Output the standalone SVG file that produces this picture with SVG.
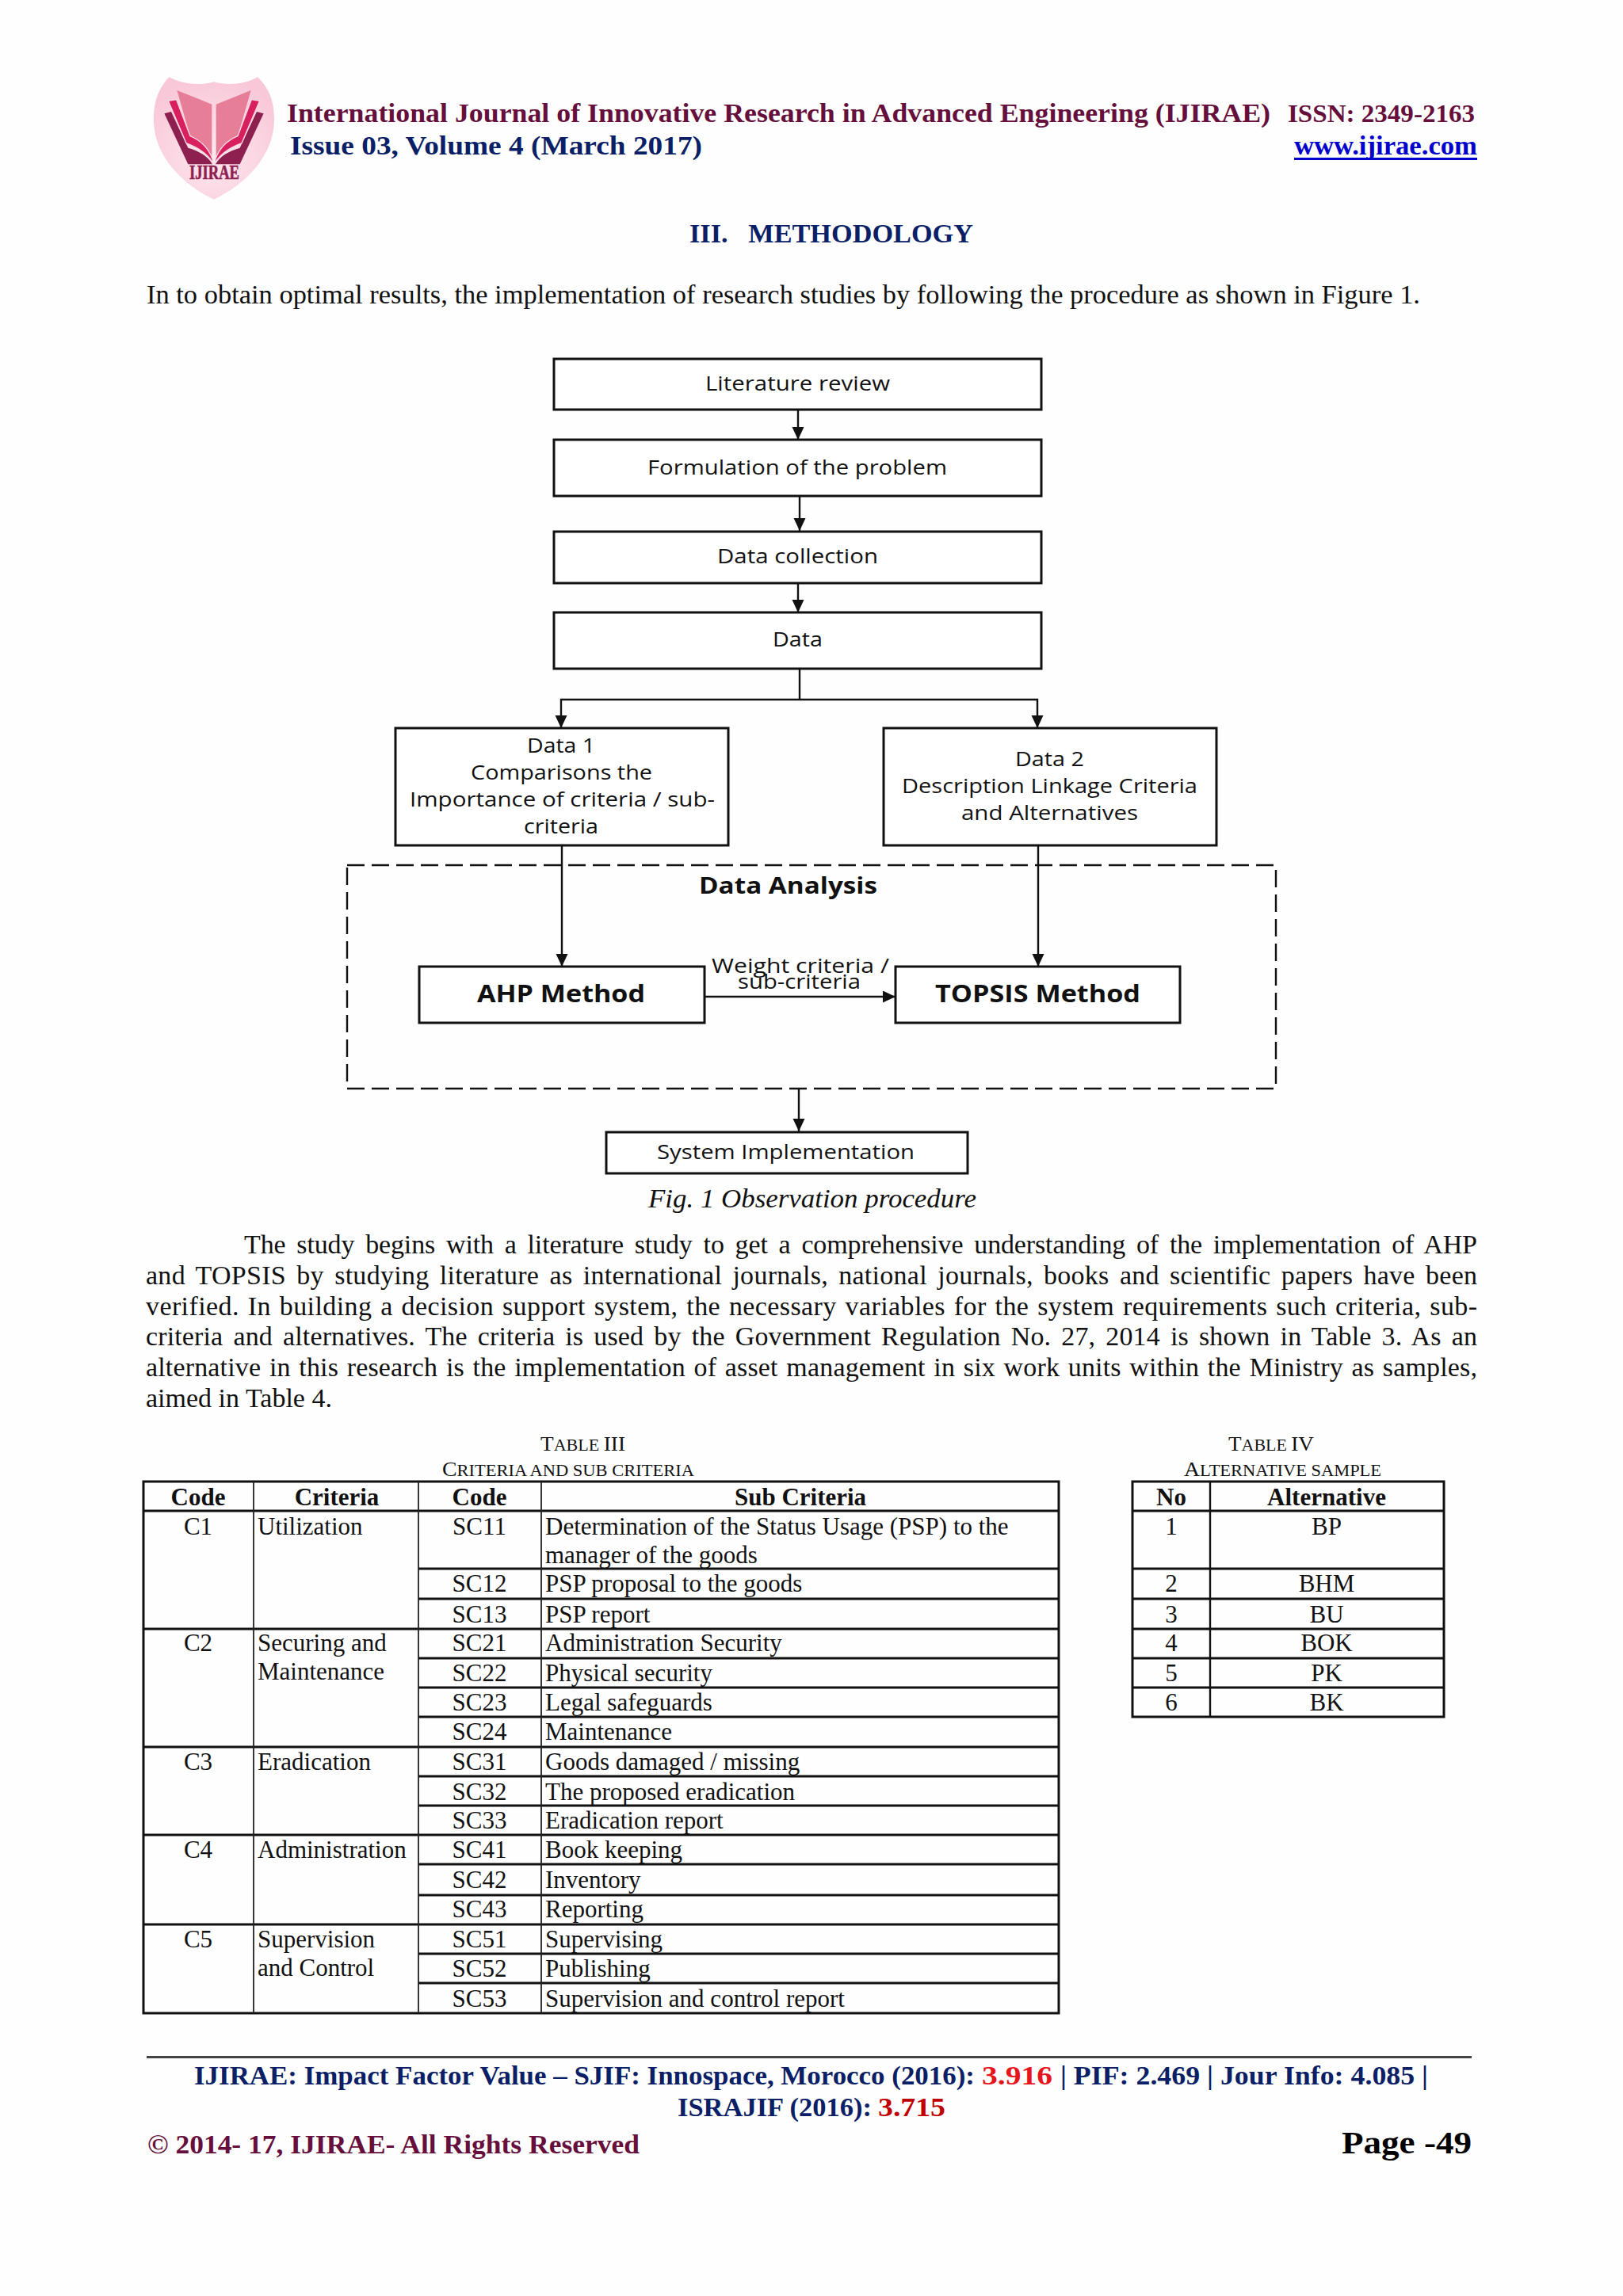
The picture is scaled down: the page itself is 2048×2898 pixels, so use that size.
<svg xmlns="http://www.w3.org/2000/svg" width="2048" height="2898" viewBox="0 0 2048 2898">
<style>
text{white-space:pre}
.hd{font-family:"Liberation Serif",serif;font-weight:700}
.t{font-family:"Liberation Serif",serif;font-size:34px;fill:#111}
.box{fill:#fff;stroke:#111;stroke-width:3}
.bt{font-family:"Open Sans","Liberation Sans",sans-serif;font-size:26px;fill:#111}
.bb{font-family:"Open Sans","Liberation Sans",sans-serif;font-size:30px;font-weight:700;fill:#111}
.con{fill:none;stroke:#111;stroke-width:2.4}
.c{font-family:"Liberation Serif",serif;font-size:31px;fill:#111}
.m{text-anchor:middle}
.b{font-weight:700}
.cap{font-family:"Liberation Serif",serif;font-size:21px;fill:#111}
.capl{font-size:26px}
.gm{stroke:#111;stroke-width:3;fill:none}
.gv{stroke:#222;stroke-width:1.8;fill:none}
.navy{fill:#0b1f66}
.maroon{fill:#660f3c}
</style>
<defs>
<marker id="arr" markerUnits="userSpaceOnUse" markerWidth="17" markerHeight="16" refX="16" refY="7.500" orient="auto"><path d="M0,0L16,7.500L0,15Z" fill="#111"/></marker>
<radialGradient id="sh" cx="50%" cy="65%" r="65%"><stop offset="0" stop-color="#fde8ef"/><stop offset="1" stop-color="#f9c8d8"/></radialGradient>
</defs>
<rect width="2048" height="2898" fill="#fefefe"/>
<g id="logo">
<g transform="translate(180,90) scale(.3333)">
<path d="M100,22C150,50 220,55 270,40C320,55 390,50 435,22C475,60 500,110 498,190C495,320 390,430 270,485C150,430 45,320 42,190C40,110 65,60 100,22Z" fill="url(#sh)"/>
<path d="M130,72L262,125L262,322L178,240Z M410,72L278,125L278,322L362,240Z" fill="#e77e97"/>
<path d="M82,160L108,153L172,290C215,302 248,322 264,352L172,352Z M458,160L432,153L368,290C325,302 292,322 276,352L368,352Z" fill="#8e2050"/>
<path d="M97,112L128,107L180,245C220,262 250,290 265,335L265,345C240,305 200,285 165,272Z M443,112L412,107L360,245C320,262 290,290 275,335L275,345C300,305 340,285 375,272Z" fill="#d8205f" stroke="#fbd9e4" stroke-width="4"/>
</g>
<text class="hd" x="239" y="226" font-size="25" fill="#8e1f50" stroke="#8e1f50" stroke-width=".6" textLength="63" lengthAdjust="spacingAndGlyphs">IJIRAE</text>
</g>
<g id="header">
<text class="hd maroon" x="362" y="154" font-size="34" textLength="1241" lengthAdjust="spacingAndGlyphs">International Journal of Innovative Research in Advanced Engineering (IJIRAE)</text>
<text class="hd maroon" x="1625" y="154" font-size="32" textLength="236" lengthAdjust="spacingAndGlyphs">ISSN: 2349-2163</text>
<text class="hd navy" x="366" y="195" font-size="34" textLength="520" lengthAdjust="spacingAndGlyphs">Issue 03, Volume 4 (March 2017)</text>
<text class="hd" x="1633" y="195" font-size="34" fill="#0000cc" textLength="231" lengthAdjust="spacingAndGlyphs">www.ijirae.com</text>
<rect x="1633" y="199" width="231" height="3" fill="#0000cc"/>
</g>
<text class="hd navy" x="870" y="306" font-size="34" textLength="358" lengthAdjust="spacingAndGlyphs">III.   METHODOLOGY</text>
<text class="t" x="185" y="383" textLength="1607" lengthAdjust="spacingAndGlyphs">In to obtain optimal results, the implementation of research studies by following the procedure as shown in Figure 1.</text>

<g id="n-analysis"><rect x="438" y="1092" width="1172" height="282" fill="none" stroke="#111" stroke-width="2.4" stroke-dasharray="22 9"/>
<text class="bb" x="882" y="1128" style="font-size:28px" textLength="225" lengthAdjust="spacingAndGlyphs">Data Analysis</text></g>
<g id="connectors">
<path class="con" d="M1007,517V555" marker-end="url(#arr)"/>
<path class="con" d="M1009,626V670" marker-end="url(#arr)"/>
<path class="con" d="M1007,736V773" marker-end="url(#arr)"/>
<path class="con" d="M1009,844V883"/>
<path class="con" d="M1009,883H708V919" marker-end="url(#arr)"/>
<path class="con" d="M1009,883H1309V919" marker-end="url(#arr)"/>
<path class="con" d="M709,1068V1220" marker-end="url(#arr)"/>
<path class="con" d="M1310,1068V1220" marker-end="url(#arr)"/>
<path class="con" d="M889,1258H1130" marker-end="url(#arr)"/>
<path class="con" d="M1008,1374V1428" marker-end="url(#arr)"/>
</g>
<g id="n-literature"><rect class="box" x="699" y="453" width="615" height="64"/><text class="bt" x="890" y="493" textLength="233" lengthAdjust="spacingAndGlyphs">Literature review</text></g>
<g id="n-formulation"><rect class="box" x="699" y="555" width="615" height="71"/><text class="bt" x="817" y="599" textLength="378" lengthAdjust="spacingAndGlyphs">Formulation of the problem</text></g>
<g id="n-collection"><rect class="box" x="699" y="671" width="615" height="65"/><text class="bt" x="905" y="711" textLength="203" lengthAdjust="spacingAndGlyphs">Data collection</text></g>
<g id="n-data"><rect class="box" x="699" y="773" width="615" height="71"/><text class="bt" x="975" y="816" textLength="63" lengthAdjust="spacingAndGlyphs">Data</text></g>
<g id="n-data1"><rect class="box" x="499" y="919" width="420" height="148"/>
<text class="bt" x="665" y="950" textLength="86" lengthAdjust="spacingAndGlyphs">Data 1</text>
<text class="bt" x="594" y="984" textLength="229" lengthAdjust="spacingAndGlyphs">Comparisons the</text>
<text class="bt" x="517" y="1018" textLength="385" lengthAdjust="spacingAndGlyphs">Importance of criteria / sub-</text>
<text class="bt" x="661" y="1052" textLength="94" lengthAdjust="spacingAndGlyphs">criteria</text></g>
<g id="n-data2"><rect class="box" x="1115" y="919" width="420" height="148"/>
<text class="bt" x="1281" y="967" textLength="87" lengthAdjust="spacingAndGlyphs">Data 2</text>
<text class="bt" x="1138" y="1001" textLength="373" lengthAdjust="spacingAndGlyphs">Description Linkage Criteria</text>
<text class="bt" x="1213" y="1035" textLength="223" lengthAdjust="spacingAndGlyphs">and Alternatives</text></g>
<g id="n-ahp"><rect class="box" x="529" y="1220" width="360" height="71"/><text class="bb" x="602" y="1265" textLength="212" lengthAdjust="spacingAndGlyphs">AHP Method</text></g>
<g id="n-topsis"><rect class="box" x="1130" y="1220" width="359" height="71"/><text class="bb" x="1180" y="1265" textLength="259" lengthAdjust="spacingAndGlyphs">TOPSIS Method</text></g>
<g id="l-weight"><text class="bt" x="898" y="1228" textLength="224" lengthAdjust="spacingAndGlyphs">Weight criteria /</text><text class="bt" x="931" y="1248" textLength="155" lengthAdjust="spacingAndGlyphs">sub-criteria</text></g>
<g id="n-system"><rect class="box" x="765" y="1429" width="456" height="52"/><text class="bt" x="829" y="1463" style="font-size:25px" textLength="325" lengthAdjust="spacingAndGlyphs">System Implementation</text></g>
<text class="t" x="818" y="1524" style="font-style:italic" textLength="414" lengthAdjust="spacingAndGlyphs">Fig. 1 Observation procedure</text>

<g id="body">
<text class="t" x="308" y="1582" style="word-spacing:5.5px" textLength="1556" lengthAdjust="spacing">The study begins with a literature study to get a comprehensive understanding of the implementation of AHP</text>
<text class="t" x="184" y="1621" style="word-spacing:4.5px" textLength="1680" lengthAdjust="spacing">and TOPSIS by studying literature as international journals, national journals, books and scientific papers have been</text>
<text class="t" x="184" y="1660" style="word-spacing:2px" textLength="1680" lengthAdjust="spacing">verified. In building a decision support system, the necessary variables for the system requirements such criteria, sub-</text>
<text class="t" x="184" y="1698" style="word-spacing:4.5px" textLength="1680" lengthAdjust="spacing">criteria and alternatives. The criteria is used by the Government Regulation No. 27, 2014 is shown in Table 3. As an</text>
<text class="t" x="184" y="1737" style="word-spacing:2px" textLength="1680" lengthAdjust="spacing">alternative in this research is the implementation of asset management in six work units within the Ministry as samples,</text>
<text class="t" x="184" y="1776">aimed in Table 4.</text>
</g>

<g id="table3">
<text class="cap" x="682" y="1831" textLength="107" lengthAdjust="spacingAndGlyphs"><tspan class="capl">T</tspan>ABLE <tspan class="capl">III</tspan></text>
<text class="cap" x="558" y="1863" textLength="318" lengthAdjust="spacingAndGlyphs"><tspan class="capl">C</tspan>RITERIA AND SUB CRITERIA</text>
<path class="gm" d="M181,1870H1336V2541H181Z"/>
<path class="gm" d="M181,1907H1336M528,1980H1336M528,2018H1336M181,2056H1336M528,2093H1336M528,2130H1336M528,2167H1336M181,2205H1336M528,2242H1336M528,2279H1336M181,2316H1336M528,2353H1336M528,2392H1336M181,2429H1336M528,2466H1336M528,2503H1336"/>
<path class="gv" d="M320,1870V2541M528,1870V2541M683,1870V2541"/>
<g transform="translate(0,1)">
<text class="c m b" x="250" y="1899">Code</text><text class="c m b" x="425" y="1899">Criteria</text><text class="c m b" x="605" y="1899">Code</text><text class="c m b" x="1010" y="1899">Sub Criteria</text>
<text class="c m" x="250" y="1936">C1</text><text class="c m" x="250" y="2083">C2</text><text class="c m" x="250" y="2233">C3</text><text class="c m" x="250" y="2344">C4</text><text class="c m" x="250" y="2457">C5</text>
<text class="c" x="325" y="1936">Utilization</text>
<text class="c" x="325" y="2083">Securing and</text><text class="c" x="325" y="2119">Maintenance</text>
<text class="c" x="325" y="2233">Eradication</text>
<text class="c" x="325" y="2344">Administration</text>
<text class="c" x="325" y="2457">Supervision</text><text class="c" x="325" y="2493">and Control</text>
<text class="c m" x="605" y="1936">SC11</text><text class="c" x="688" y="1936">Determination of the Status Usage (PSP) to the</text><text class="c" x="688" y="1972">manager of the goods</text>
<text class="c m" x="605" y="2008">SC12</text><text class="c" x="688" y="2008">PSP proposal to the goods</text>
<text class="c m" x="605" y="2047">SC13</text><text class="c" x="688" y="2047">PSP report</text>
<text class="c m" x="605" y="2083">SC21</text><text class="c" x="688" y="2083">Administration Security</text>
<text class="c m" x="605" y="2121">SC22</text><text class="c" x="688" y="2121">Physical security</text>
<text class="c m" x="605" y="2158">SC23</text><text class="c" x="688" y="2158">Legal safeguards</text>
<text class="c m" x="605" y="2195">SC24</text><text class="c" x="688" y="2195">Maintenance</text>
<text class="c m" x="605" y="2233">SC31</text><text class="c" x="688" y="2233">Goods damaged / missing</text>
<text class="c m" x="605" y="2271">SC32</text><text class="c" x="688" y="2271">The proposed eradication</text>
<text class="c m" x="605" y="2307">SC33</text><text class="c" x="688" y="2307">Eradication report</text>
<text class="c m" x="605" y="2344">SC41</text><text class="c" x="688" y="2344">Book keeping</text>
<text class="c m" x="605" y="2382">SC42</text><text class="c" x="688" y="2382">Inventory</text>
<text class="c m" x="605" y="2419">SC43</text><text class="c" x="688" y="2419">Reporting</text>
<text class="c m" x="605" y="2457">SC51</text><text class="c" x="688" y="2457">Supervising</text>
<text class="c m" x="605" y="2494">SC52</text><text class="c" x="688" y="2494">Publishing</text>
<text class="c m" x="605" y="2532">SC53</text><text class="c" x="688" y="2532">Supervision and control report</text>
</g>
</g>

<g id="table4">
<text class="cap" x="1550" y="1831" textLength="108" lengthAdjust="spacingAndGlyphs"><tspan class="capl">T</tspan>ABLE <tspan class="capl">IV</tspan></text>
<text class="cap" x="1494" y="1863" textLength="249" lengthAdjust="spacingAndGlyphs"><tspan class="capl">A</tspan>LTERNATIVE SAMPLE</text>
<path class="gm" d="M1429,1870H1822V2167H1429Z"/>
<path class="gm" d="M1429,1907H1822M1429,1980H1822M1429,2018H1822M1429,2056H1822M1429,2093H1822M1429,2130H1822"/>
<path class="gm" style="stroke-width:2.400" d="M1527,1870V2167"/>
<g transform="translate(0,1)">
<text class="c m b" x="1478" y="1899">No</text><text class="c m b" x="1674" y="1899">Alternative</text>
<text class="c m" x="1478" y="1936">1</text><text class="c m" x="1674" y="1936">BP</text>
<text class="c m" x="1478" y="2008">2</text><text class="c m" x="1674" y="2008">BHM</text>
<text class="c m" x="1478" y="2047">3</text><text class="c m" x="1674" y="2047">BU</text>
<text class="c m" x="1478" y="2083">4</text><text class="c m" x="1674" y="2083">BOK</text>
<text class="c m" x="1478" y="2121">5</text><text class="c m" x="1674" y="2121">PK</text>
<text class="c m" x="1478" y="2158">6</text><text class="c m" x="1674" y="2158">BK</text>
</g>
</g>

<g id="footer">
<rect x="185" y="2595" width="1672" height="3" fill="#444"/>
<text class="hd navy" x="245" y="2631" font-size="34" textLength="985" lengthAdjust="spacingAndGlyphs">IJIRAE: Impact Factor Value – SJIF: Innospace, Morocco (2016):</text>
<text class="hd" x="1239" y="2631" font-size="34" fill="#e8141c" textLength="89" lengthAdjust="spacingAndGlyphs">3.916</text>
<text class="hd navy" x="1338" y="2631" font-size="34" textLength="464" lengthAdjust="spacingAndGlyphs">| PIF: 2.469 | Jour Info: 4.085 |</text>
<text class="hd navy" x="855" y="2671" font-size="34" textLength="245" lengthAdjust="spacingAndGlyphs">ISRAJIF (2016):</text>
<text class="hd" x="1108" y="2671" font-size="34" fill="#c00000" textLength="85" lengthAdjust="spacingAndGlyphs">3.715</text>
<text class="hd maroon" x="186" y="2718" font-size="34" textLength="621" lengthAdjust="spacingAndGlyphs">© 2014- 17, IJIRAE- All Rights Reserved</text>
<text class="hd" x="1693" y="2718" font-size="40" fill="#000" textLength="164" lengthAdjust="spacingAndGlyphs">Page -49</text>
</g>
</svg>
